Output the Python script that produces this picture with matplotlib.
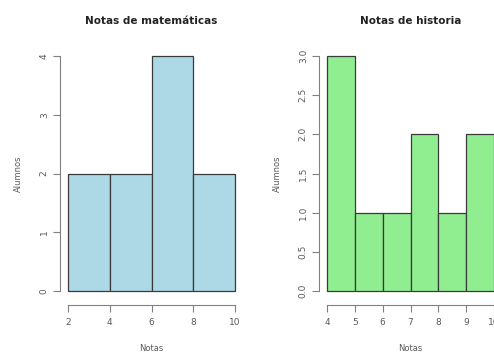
import matplotlib
matplotlib.use("Agg")
import matplotlib.pyplot as plt
import numpy as np

# Data
mat_edges = [2, 4, 6, 8, 10]
mat_counts = [2, 2, 4, 2]
hist_edges = [4, 5, 6, 7, 8, 9, 10]
hist_counts = [3, 1, 1, 2, 1, 2]
mat_yticks = [0, 1, 2, 3, 4]
hist_yticks = [0.0, 0.5, 1.0, 1.5, 2.0, 2.5, 3.0]
mat_xticks = [2, 4, 6, 8, 10]
hist_xticks = [4, 5, 6, 7, 8, 9, 10]

W, H = 494, 352
fig = plt.figure(figsize=(W / 100, H / 100), dpi=100)

axis_col = "#808080"
text_col = "#5a5a5a"

def px_axes(x0, x1, y0, y1):
    # pixel coords (top-left origin) to figure fraction
    return [x0 / W, 1 - y1 / H, (x1 - x0) / W, (y1 - y0) / H]

def draw(ax, edges, counts, color, yticks, xticks, ylabels, title, xpad, ypad):
    edges = np.array(edges, dtype=float)
    ax.bar(edges[:-1], counts, width=np.diff(edges), align="edge",
           color=color, edgecolor="#3a3a3a", linewidth=0.9)
    ax.set_xlim(edges[0] - xpad, edges[-1] + xpad)
    ax.set_ylim(-ypad, max(yticks) + ypad)
    for s in ["top", "right"]:
        ax.spines[s].set_visible(False)
    ax.spines["left"].set_bounds(min(yticks), max(yticks))
    ax.spines["bottom"].set_bounds(xticks[0], xticks[-1])
    ax.spines["bottom"].set_position(("outward", 3))
    ax.spines["left"].set_position(("outward", 1))
    for s in ["left", "bottom"]:
        ax.spines[s].set_color(axis_col)
        ax.spines[s].set_linewidth(0.8)
    ax.set_yticks(yticks)
    ax.set_yticklabels(ylabels, rotation=90, va="center")
    ax.set_xticks(xticks)
    ax.set_xticklabels([str(x) for x in xticks])
    ax.tick_params(colors=axis_col, labelcolor=text_col, labelsize=6.5,
                   length=5, width=0.8)
    ax.tick_params(axis="x", pad=5)
    ax.tick_params(axis="y", pad=3)
    ax.set_title(title, fontsize=7.5, fontweight="bold", color="#222222", pad=16)
    ax.set_xlabel("Notas", fontsize=6, color=text_col, labelpad=12)
    ax.set_ylabel("Alumnos", fontsize=6, color=text_col, labelpad=12)
    ax.set_facecolor("none")

ax1 = fig.add_axes(px_axes(61.3, 241.7, 46.6, 300.4))
draw(ax1, mat_edges, mat_counts, "#ADD8E6", mat_yticks, mat_xticks,
     [str(v) for v in mat_yticks], "Notas de matemáticas", 0.32, 0.16)

ax2 = fig.add_axes(px_axes(320.3, 500.7, 46.6, 300.4))
draw(ax2, hist_edges, hist_counts, "#90EE90", hist_yticks, hist_xticks,
     [f"{v:.1f}" for v in hist_yticks], "Notas de historia", 0.24, 0.12)

fig.savefig("out.png", dpi=100)
